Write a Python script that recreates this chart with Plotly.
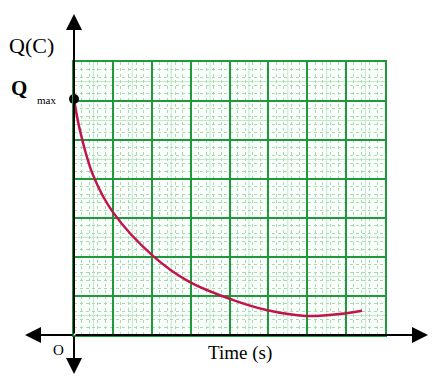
import plotly.graph_objects as go

# Data (time in grid units, charge in grid units)
time_s = [0.0, 0.15, 0.49, 1.0, 2.03, 2.97, 4.08, 4.95, 5.97, 7.0, 7.41]
charge_c = [6.05, 5.26, 4.10, 3.15, 2.03, 1.36, 0.90, 0.64, 0.49, 0.56, 0.62]
q_max = [6.05]
x_range = [0, 8]
y_range = [0, 7]

W, H = 432, 378
L, R, T, B = 74, 47, 62, 43
pw, ph = W - L - R, H - T - B

fig = go.Figure()

fig.add_trace(go.Scatter(
    x=time_s, y=charge_c, mode="lines",
    line=dict(color="#c4124f", width=2.5, shape="spline", smoothing=1.0),
    hoverinfo="skip", showlegend=False,
))
fig.add_trace(go.Scatter(
    x=[0], y=q_max, mode="markers",
    marker=dict(color="black", size=10), cliponaxis=False,
    hoverinfo="skip", showlegend=False,
))

grid_major = "#1e9a3c"
grid_minor = "#a9d9b3"

common = dict(
    showgrid=True, gridcolor=grid_major, gridwidth=1.6,
    zeroline=False, showticklabels=False, ticks="",
    showline=True, linecolor=grid_major, linewidth=1.6, mirror=True,
    minor=dict(dtick=0.2, showgrid=True, gridcolor=grid_minor, gridwidth=1, griddash="dot"),
    fixedrange=True,
)
fig.update_xaxes(range=x_range, dtick=1, **common)
fig.update_yaxes(range=y_range, dtick=1, **common)

# half lines (lighter solid)
for v in [i + 0.5 for i in range(8)]:
    fig.add_shape(type="line", xref="x", yref="paper", x0=v, x1=v, y0=0, y1=1,
                  line=dict(color="#c2e8c9", width=1), layer="below")
for v in [i + 0.5 for i in range(7)]:
    fig.add_shape(type="line", xref="paper", yref="y", x0=0, x1=1, y0=v, y1=v,
                  line=dict(color="#c2e8c9", width=1), layer="below")

def px2paper_x(px):
    return (px - L) / pw

def py2paper_y(py):
    return (H - B - py) / ph

arrow = dict(showarrow=True, arrowhead=2, arrowsize=1.6, arrowwidth=2,
             arrowcolor="black", text="", xref="paper", yref="paper")
# y axis up / down
fig.add_annotation(x=0, y=py2paper_y(14), ax=0, ay=H - B - 14, **arrow)
fig.add_annotation(x=0, y=py2paper_y(374), ax=0, ay=-(374 - (H - B)), **arrow)
# x axis right / left
fig.add_annotation(x=px2paper_x(428), y=0, ax=-(428 - L), ay=0, **arrow)
fig.add_annotation(x=px2paper_x(25), y=0, ax=L - 25, ay=0, **arrow)

serif = "Liberation Serif, Times New Roman, serif"
def label(text, px, py, size, bold=False):
    fig.add_annotation(x=px2paper_x(px), y=py2paper_y(py), xref="paper", yref="paper",
                       text=("<b>%s</b>" % text) if bold else text, showarrow=False,
                       font=dict(family=serif, size=size, color="black"),
                       xanchor="center", yanchor="middle")

label("Q(C)", 31, 45, 22)
label("Q", 19, 88, 21, bold=True)
label("max", 46, 100, 11)
label("O", 58, 350, 15)
label("Time (s)", 240, 353, 19)

fig.update_layout(
    width=W, height=H,
    margin=dict(l=L, r=R, t=T, b=B, pad=0),
    paper_bgcolor="white", plot_bgcolor="#fbfffc",
    showlegend=False,
)

fig.write_html("out.html", config=dict(displayModeBar=False))
